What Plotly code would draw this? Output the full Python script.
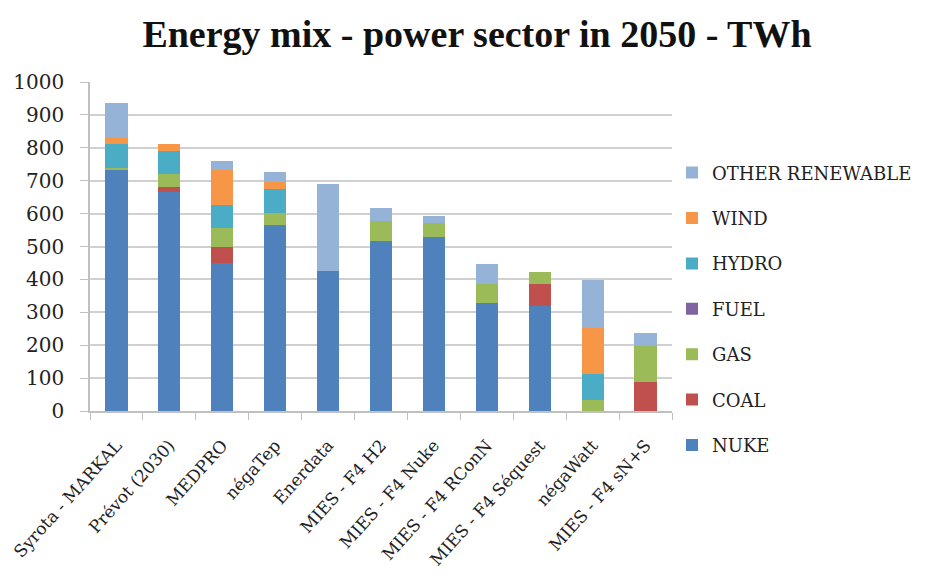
import plotly.graph_objects as go

# Scenarios and TWh per source
scenarios = ["Syrota - MARKAL", "Prévot (2030)", "MEDPRO", "négaTep", "Enerdata",
             "MIES - F4 H2", "MIES - F4 Nuke", "MIES - F4 RConN", "MIES - F4 Séquest",
             "négaWatt", "MIES - F4 sN+S"]
nuke = [735, 667, 451, 565, 425, 517, 528, 329, 319, 0, 0]
coal = [0, 13, 49, 0, 0, 0, 0, 0, 66, 0, 87]
gas = [5, 39, 55, 38, 0, 61, 44, 57, 37, 33, 110]
fuel = [0, 0, 0, 0, 0, 0, 0, 0, 0, 0, 0]
hydro = [73, 71, 71, 71, 0, 0, 0, 0, 0, 78, 0]
wind = [18, 23, 106, 23, 0, 0, 0, 0, 0, 140, 0]
other_renewable = [104, 0, 29, 28, 265, 40, 22, 60, 0, 147, 39]

series = [
    ("NUKE", nuke, "#4f81bd"),
    ("COAL", coal, "#c0504d"),
    ("GAS", gas, "#9bbb59"),
    ("FUEL", fuel, "#8064a2"),
    ("HYDRO", hydro, "#4bacc6"),
    ("WIND", wind, "#f79646"),
    ("OTHER RENEWABLE", other_renewable, "#95b3d7"),
]

SERIF = "Liberation Serif"
WIDE_SERIF = "DejaVu Serif"

fig = go.Figure()
for i, (name, vals, color) in enumerate(series):
    # legend lists the top of the stack first
    fig.add_trace(go.Bar(x=scenarios, y=vals, name=name, legendgroup=name,
                         legendrank=100 - i,
                         marker=dict(color=color, line=dict(width=0))))

# page body has an 8px margin, so the figure is sized to fit the window
fig.update_layout(
    width=938, height=577,
    barmode="stack", bargap=0.58,
    paper_bgcolor="white", plot_bgcolor="white",
    margin=dict(l=82, r=274, t=74, b=174, autoexpand=False),
    title=dict(text="<b>Energy mix - power sector in 2050 - TWh</b>",
               x=0.5, xanchor="center", y=0.955, yanchor="middle",
               font=dict(family=SERIF, size=38, color="#111111")),
    font=dict(family=SERIF, color="#222222"),
    legend=dict(tracegroupgap=19,
                x=1.0, xanchor="left", y=0.78, yanchor="top",
                font=dict(family=WIDE_SERIF, size=18, color="#222222"),
                itemwidth=30, bgcolor="rgba(0,0,0,0)"),
    showlegend=True,
)
fig.update_yaxes(range=[0, 1000], dtick=100, showgrid=True, gridcolor="#d0d0d0",
                 gridwidth=1.5, showline=True, linecolor="#c0c0c0", linewidth=1.5,
                 ticks="outside", ticklen=8, tickcolor="#c0c0c0", automargin=False,
                 tickfont=dict(family=WIDE_SERIF, size=20, color="#222222"),
                 ticklabelstandoff=12, zeroline=False)
fig.update_xaxes(showline=True, linecolor="#c0c0c0", linewidth=1.5, automargin=False,
                 ticks="outside", tickson="boundaries", ticklen=7, tickcolor="#c0c0c0",
                 tickangle=-48, ticklabelstandoff=16,
                 tickfont=dict(family=WIDE_SERIF, size=17, color="#222222"))

fig.write_html("out.html")
